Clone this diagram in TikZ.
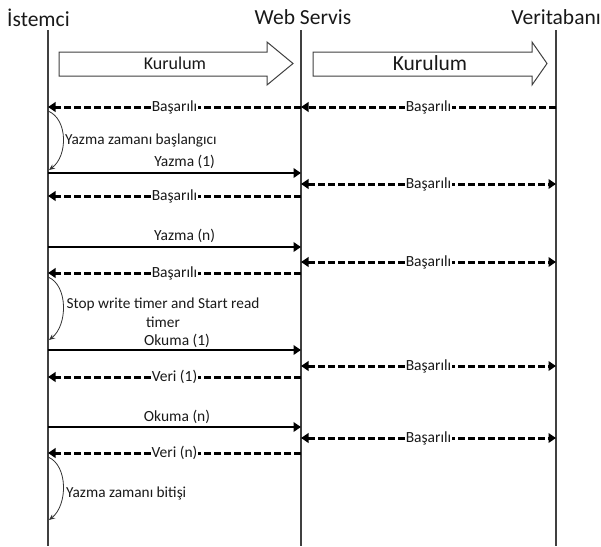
\documentclass[tikz,border=0pt]{standalone}
\usepackage{fontspec}
\setmainfont{Carlito}
\usetikzlibrary{arrows.meta}
\begin{document}
\begin{tikzpicture}[x=1pt,y=-1pt,
  lifeline/.style={draw=black!75,line width=1.1pt},
  tipA/.tip={Triangle[length=7.5pt,width=9.5pt]},
  msg/.style={line width=2.6pt,-tipA},
  reply/.style={line width=3pt,dash pattern=on 7pt off 3pt,-tipA},
  both/.style={line width=3pt,dash pattern=on 7pt off 3pt,tipA-tipA},
  selfmsg/.style={line width=0.8pt,draw=black!80,-{Stealth[length=6pt,width=5pt]}},
  lbl/.style={font=\fontsize{15.5}{17}\selectfont,text=black!90,fill=white,inner sep=1pt},
  toplbl/.style={font=\fontsize{15.5}{17}\selectfont,text=black!90,inner sep=1pt},
  head/.style={font=\fontsize{21.5}{23}\selectfont,text=black!90,inner sep=0pt},
  bigarrow/.style={draw=black!75,line width=1pt,fill=white},
  note/.style={font=\fontsize{15.3}{19}\selectfont,text=black!90,inner sep=0pt}]
\useasboundingbox (0,0) rectangle (601,546);

% headers
\node[head,anchor=base west] (hI) at (7,26) {İstemci};
\node[head,anchor=base] (hW) at (303,24) {Web Servis};
\node[head,anchor=base east] (hV) at (601,24) {Veritabanı};

% lifelines
\coordinate (It) at (48,30);  \coordinate (Ib) at (48,546);
\coordinate (Wt) at (301,30); \coordinate (Wb) at (301,546);
\coordinate (Vt) at (556,30); \coordinate (Vb) at (556,546);
\draw[lifeline] (It) -- (Ib);
\draw[lifeline] (Wt) -- (Wb);
\draw[lifeline] (Vt) -- (Vb);

% Kurulum arrows
\draw[bigarrow] (59,52) -- (267,52) -- (267,42) -- (293,63.5) -- (267,85) -- (267,76) -- (59,76) -- cycle;
\node[font=\fontsize{18}{20}\selectfont,text=black!90] (k1) at (175,63) {Kurulum};
\draw[bigarrow] (313,52) -- (532,52) -- (532,42) -- (547,63.5) -- (532,85) -- (532,76) -- (313,76) -- cycle;
\node[font=\fontsize{21.5}{23}\selectfont,text=black!90] (k2) at (430,63) {Kurulum};

% row coordinates
\foreach \n/\y in {1/107,2/173,3/184,4/196,5/247,6/262,7/273,8/350,9/366,10/377,11/427,12/438,13/453}{
  \coordinate (I\n) at (48,\y);
  \coordinate (W\n) at (301,\y);
  \coordinate (V\n) at (556,\y);
}

% row 1
\draw[reply] (W1) -- node[lbl] (b1) {Başarılı} (I1);
\draw[reply] (V1) -- node[lbl] (b1v) {Başarılı} (W1);

% self note 1
\coordinate (s1a) at (48,111); \coordinate (s1b) at (49,170);
\draw[selfmsg] (s1a) .. controls (68,119) and (68,156) .. (s1b);
\node[note,anchor=west] (n1) at (65,141) {Yazma zamanı başlangıcı};

% Yazma (1)
\draw[msg] (I2) -- node[toplbl,above=2pt,pos=0.54] (y1) {Yazma (1)} (W2);
\draw[both] (W3) -- node[lbl] (b3) {Başarılı} (V3);
\draw[reply] (W4) -- node[lbl] (b4) {Başarılı} (I4);

% Yazma (n)
\draw[msg] (I5) -- node[toplbl,above=2pt,pos=0.54] (yn) {Yazma (n)} (W5);
\draw[both] (W6) -- node[lbl] (b6) {Başarılı} (V6);
\draw[reply] (W7) -- node[lbl] (b7) {Başarılı} (I7);

% self note 2
\coordinate (s2a) at (48,277); \coordinate (s2b) at (49,340);
\draw[selfmsg] (s2a) .. controls (68,285) and (68,325) .. (s2b);
\node[note,align=center] (n2) at (163,313) {Stop write timer and Start read\\timer};

% Okuma (1)
\draw[msg] (I8) -- node[toplbl,above=0pt,pos=0.51] (o1) {Okuma (1)} (W8);
\draw[both] (W9) -- node[lbl] (b9) {Başarılı} (V9);
\draw[reply] (W10) -- node[lbl] (v1) {Veri (1)} (I10);

% Okuma (n)
\draw[msg] (I11) -- node[toplbl,above=1pt,pos=0.51] (on) {Okuma (n)} (W11);
\draw[both] (W12) -- node[lbl] (b12) {Başarılı} (V12);
\draw[reply] (W13) -- node[lbl] (vn) {Veri (n)} (I13);

% self note 3
\coordinate (s3a) at (48,457); \coordinate (s3b) at (49,520);
\draw[selfmsg] (s3a) .. controls (68,465) and (68,505) .. (s3b);
\node[note,anchor=west] (n3) at (66,493) {Yazma zamanı bitişi};
\end{tikzpicture}
\end{document}
